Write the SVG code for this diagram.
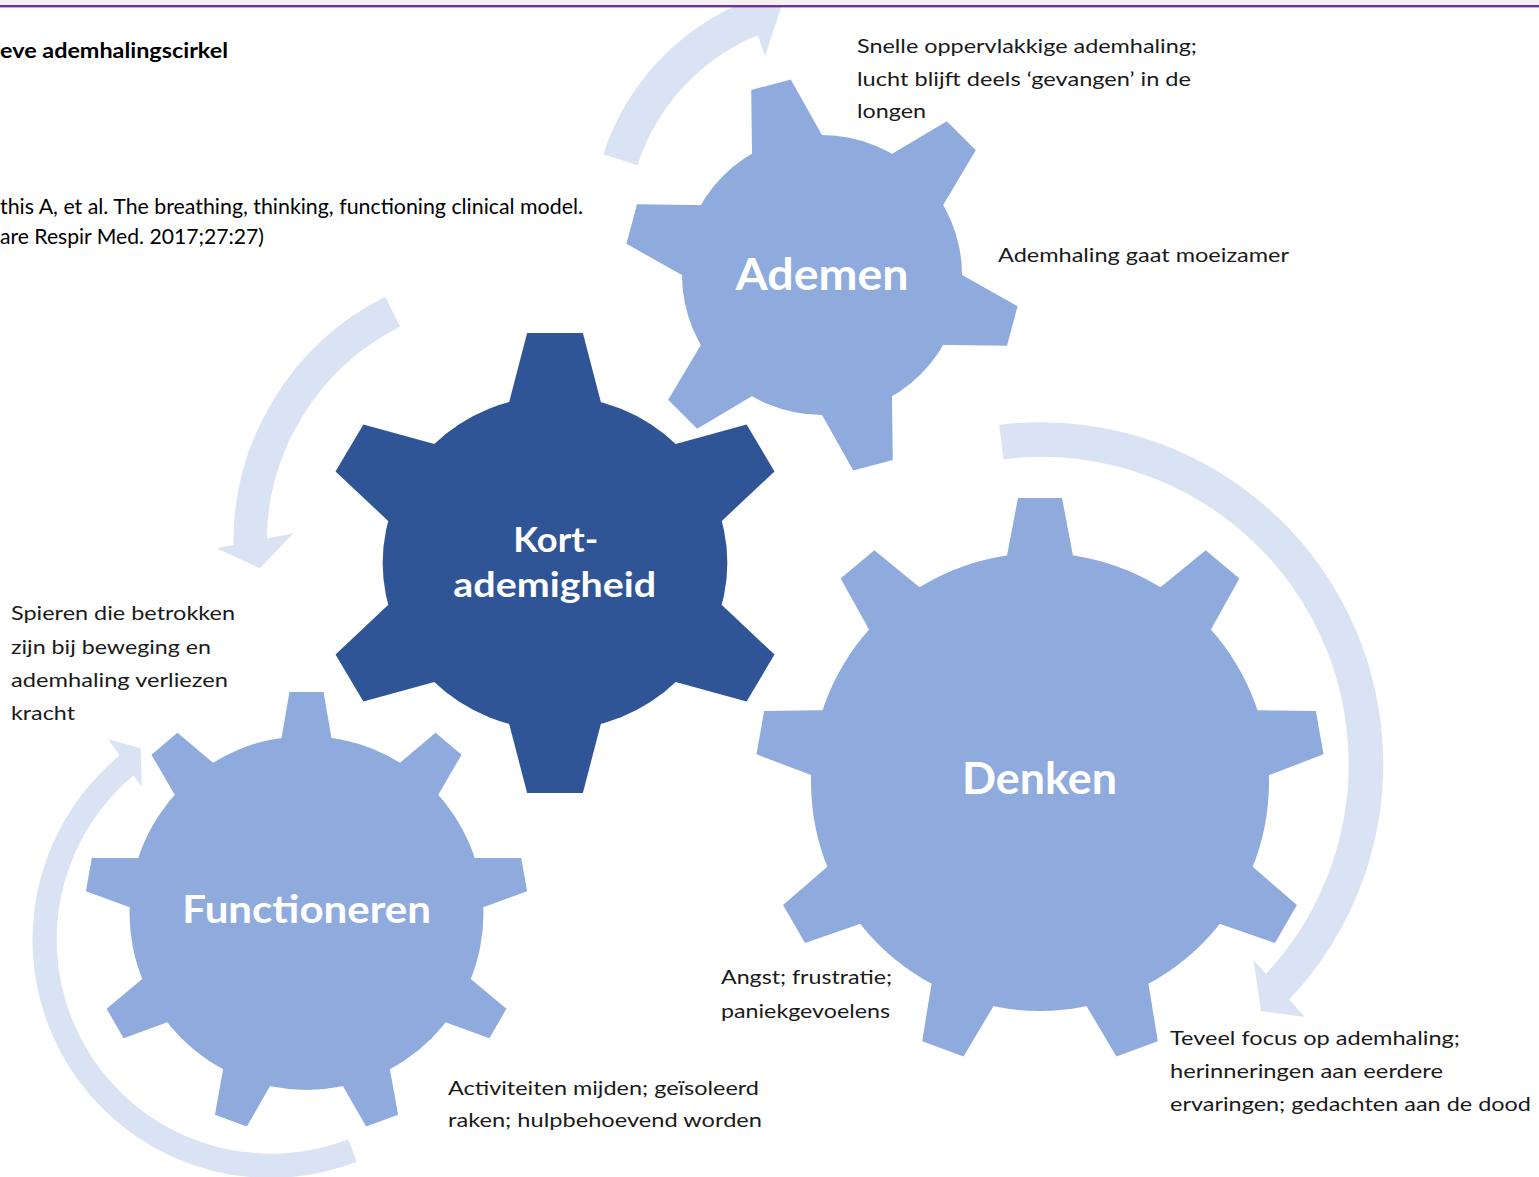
<svg xmlns="http://www.w3.org/2000/svg" xmlns:xlink="http://www.w3.org/1999/xlink" width="1539" height="1177" viewBox="0 0 1539 1177">
  <style>
    .note { font-family: Lato, "Liberation Sans", sans-serif; font-size: 20px; fill: #1a1a1a; }
    .ref { font-family: Lato, "Liberation Sans", sans-serif; font-size: 21px; fill: #000; }
    .title { font-family: Lato, "Liberation Sans", sans-serif; font-size: 20.5px; font-weight: bold; fill: #000; }
    .gearlabel { font-family: Lato, "Liberation Sans", sans-serif; font-weight: bold; fill: #ffffff; }
    .band { fill: none; stroke: #DAE3F3; }
    .head { fill: #DAE3F3; }
    .light { fill: #8FAADC; }
    .dark { fill: #2F5597; }
  </style>
  <defs>
    <!-- gear teeth, drawn pointing up from the gear centre -->
    <path id="toothK" d="M-47.2,-150 L-27,-230 L27,-230 L47.2,-150 Z"/>
    <path id="toothA" d="M-38.8,-125 L-20.5,-197 L20.5,-197 L38.8,-125 Z"/>
    <path id="toothD" d="M-36.1,-210 L-22,-284 L22,-284 L36.1,-210 Z"/>
    <path id="toothF" d="M-27.6,-160 L-17,-221 L17,-221 L27.6,-160 Z"/>
  </defs>

  <rect x="0" y="0" width="1539" height="1177" fill="#ffffff"/>

  <!-- circular arrows -->
  <g id="connectors">
    <g id="arrow-ademen">
      <circle class="band" cx="838" cy="230" r="228.6" stroke-width="35.8" stroke-dasharray="201.1 1500" transform="rotate(197.9 838 230)"/>
      <polygon class="head" points="738.7,-19.6 783,2 765,56"/>
    </g>
    <g id="arrow-kort">
      <circle class="band" cx="508" cy="542.5" r="257.9" stroke-width="33.4" stroke-dasharray="289.9 1700" transform="rotate(179 508 542.5)"/>
      <polygon class="head" points="216.7,548.3 260,568.3 293.3,533.3"/>
    </g>
    <g id="arrow-denken">
      <circle class="band" cx="1041.4" cy="764.1" r="324.5" stroke-width="34.6" stroke-dasharray="804.8 2100" transform="rotate(-97.1 1041.4 764.1)"/>
      <polygon class="head" points="1253.5,960 1261,1011 1305,1017"/>
    </g>
    <g id="arrow-functioneren">
      <circle class="band" cx="270.7" cy="939.7" r="226.1" stroke-width="24.2" stroke-dasharray="641.6 1500" transform="rotate(68.8 270.7 939.7)"/>
      <polygon class="head" points="108.3,739.3 140.7,748.3 141.7,786.7"/>
    </g>
  </g>

  <!-- gears -->
  <g id="gear-ademen" class="light" transform="translate(822,275)">
    <circle r="140"/>
    <use href="#toothA" transform="rotate(-15)"/>
    <use href="#toothA" transform="rotate(45)"/>
    <use href="#toothA" transform="rotate(105)"/>
    <use href="#toothA" transform="rotate(165)"/>
    <use href="#toothA" transform="rotate(225)"/>
    <use href="#toothA" transform="rotate(285)"/>
    <text class="gearlabel" x="-86.5" y="15" font-size="44.5" textLength="173" lengthAdjust="spacingAndGlyphs">Ademen</text>
  </g>

  <g id="gear-denken" class="light" transform="translate(1040,782)">
    <circle r="229"/>
    <use href="#toothD"/>
    <use href="#toothD" transform="rotate(40)"/>
    <use href="#toothD" transform="rotate(80)"/>
    <use href="#toothD" transform="rotate(120)"/>
    <use href="#toothD" transform="rotate(160)"/>
    <use href="#toothD" transform="rotate(200)"/>
    <use href="#toothD" transform="rotate(240)"/>
    <use href="#toothD" transform="rotate(280)"/>
    <use href="#toothD" transform="rotate(320)"/>
    <text class="gearlabel" x="-78" y="12" font-size="43" textLength="155" lengthAdjust="spacingAndGlyphs">Denken</text>
  </g>

  <g id="gear-functioneren" class="light" transform="translate(306.5,913)">
    <circle r="177"/>
    <use href="#toothF"/>
    <use href="#toothF" transform="rotate(40)"/>
    <use href="#toothF" transform="rotate(80)"/>
    <use href="#toothF" transform="rotate(120)"/>
    <use href="#toothF" transform="rotate(160)"/>
    <use href="#toothF" transform="rotate(200)"/>
    <use href="#toothF" transform="rotate(240)"/>
    <use href="#toothF" transform="rotate(280)"/>
    <use href="#toothF" transform="rotate(320)"/>
    <text class="gearlabel" x="-124.2" y="10.3" font-size="39" textLength="248.7" lengthAdjust="spacingAndGlyphs">Functioneren</text>
  </g>

  <g id="gear-kortademigheid" class="dark" transform="translate(555,563)">
    <!-- this gear is slightly wider than it is tall -->
    <g transform="scale(1.032,1)">
      <circle r="167"/>
      <use href="#toothK"/>
      <use href="#toothK" transform="rotate(60)"/>
      <use href="#toothK" transform="rotate(120)"/>
      <use href="#toothK" transform="rotate(180)"/>
      <use href="#toothK" transform="rotate(240)"/>
      <use href="#toothK" transform="rotate(300)"/>
    </g>
    <text class="gearlabel" x="-41.7" y="-11" font-size="35" textLength="85" lengthAdjust="spacingAndGlyphs">Kort-</text>
    <text class="gearlabel" x="-101.7" y="34" font-size="35" textLength="202.7" lengthAdjust="spacingAndGlyphs">ademigheid</text>
  </g>

  <!-- annotations -->
  <g id="note-ademen">
    <text class="note" x="857" y="53" textLength="340" lengthAdjust="spacingAndGlyphs">Snelle oppervlakkige ademhaling;</text>
    <text class="note" x="857" y="85.5" textLength="334" lengthAdjust="spacingAndGlyphs">lucht blijft deels ‘gevangen’ in de</text>
    <text class="note" x="857" y="118" textLength="69" lengthAdjust="spacingAndGlyphs">longen</text>
    <text class="note" x="998" y="262" textLength="291" lengthAdjust="spacingAndGlyphs">Ademhaling gaat moeizamer</text>
  </g>
  <g id="note-functioneren">
    <text class="note" x="11" y="620" textLength="224" lengthAdjust="spacingAndGlyphs">Spieren die betrokken</text>
    <text class="note" x="11" y="654" textLength="200" lengthAdjust="spacingAndGlyphs">zijn bij beweging en</text>
    <text class="note" x="11" y="687" textLength="217" lengthAdjust="spacingAndGlyphs">ademhaling verliezen</text>
    <text class="note" x="11" y="720" textLength="64" lengthAdjust="spacingAndGlyphs">kracht</text>
    <text class="note" x="448" y="1095" textLength="311" lengthAdjust="spacingAndGlyphs">Activiteiten mijden; geïsoleerd</text>
    <text class="note" x="448" y="1127" textLength="314" lengthAdjust="spacingAndGlyphs">raken; hulpbehoevend worden</text>
  </g>
  <g id="note-denken">
    <text class="note" x="721" y="984" textLength="171" lengthAdjust="spacingAndGlyphs">Angst; frustratie;</text>
    <text class="note" x="721" y="1018" textLength="169" lengthAdjust="spacingAndGlyphs">paniekgevoelens</text>
    <text class="note" x="1170" y="1045" textLength="290" lengthAdjust="spacingAndGlyphs">Teveel focus op ademhaling;</text>
    <text class="note" x="1170" y="1078" textLength="273" lengthAdjust="spacingAndGlyphs">herinneringen aan eerdere</text>
    <text class="note" x="1170" y="1111" textLength="361" lengthAdjust="spacingAndGlyphs">ervaringen; gedachten aan de dood</text>
  </g>

  <!-- heading and source -->
  <g id="heading">
    <text class="title" x="0" y="58" textLength="228" lengthAdjust="spacingAndGlyphs">eve ademhalingscirkel</text>
    <text class="ref" x="0" y="214" textLength="583" lengthAdjust="spacingAndGlyphs">this A, et al. The breathing, thinking, functioning clinical model.</text>
    <text class="ref" x="0" y="244" textLength="264" lengthAdjust="spacingAndGlyphs">are Respir Med. 2017;27:27)</text>
  </g>

  <!-- page edge -->
  <rect x="0" y="0" width="1539" height="5" fill="#F3F2F1"/>
  <rect x="0" y="5" width="1539" height="2.4" fill="#7030A0"/>
</svg>
